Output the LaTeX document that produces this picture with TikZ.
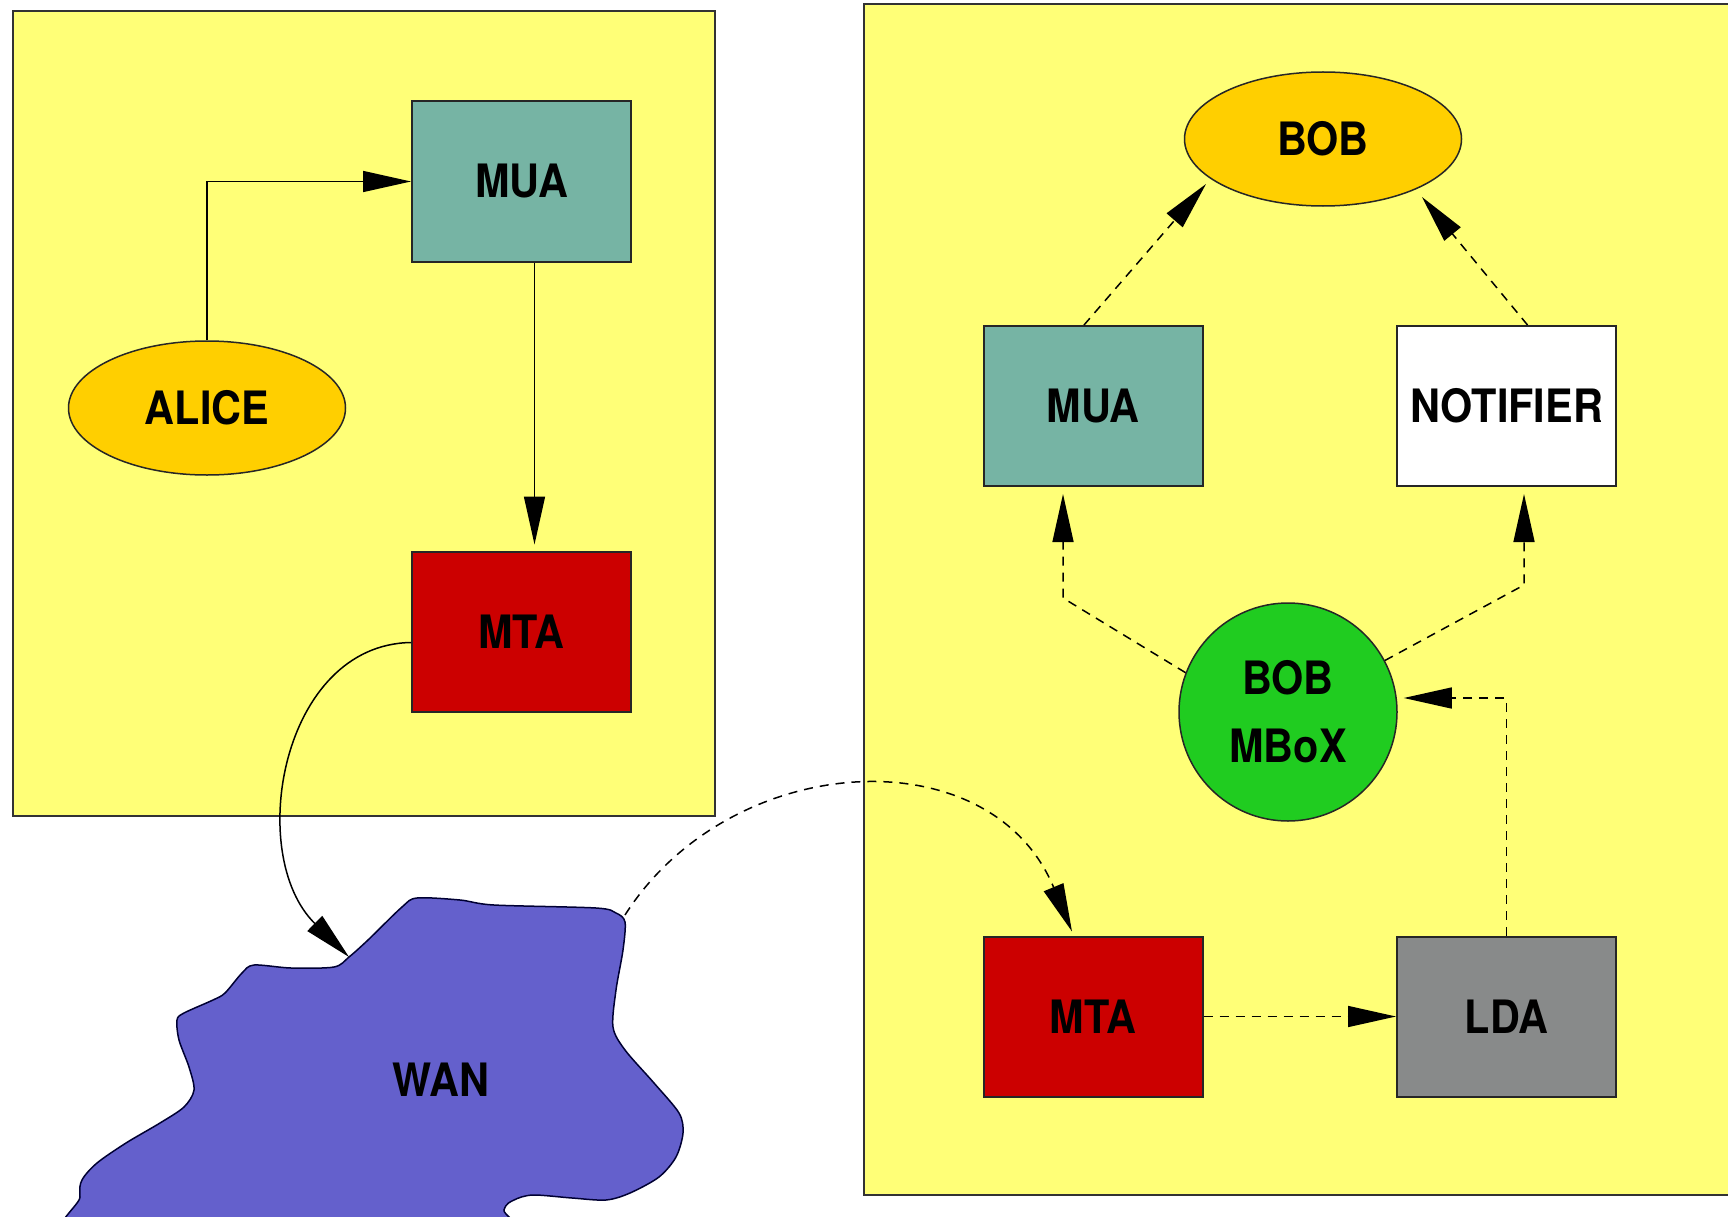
\documentclass[tikz,border=0pt]{standalone}
\usepackage{fontspec}
\setmainfont[FakeStretch=0.9]{TeX Gyre Heros}
\usetikzlibrary{arrows.meta,shapes.geometric}

\definecolor{panelyellow}{RGB}{255,255,119}
\definecolor{muateal}{RGB}{118,180,164}
\definecolor{mtared}{RGB}{204,0,0}
\definecolor{usergold}{RGB}{255,207,0}
\definecolor{mboxgreen}{RGB}{32,204,32}
\definecolor{ldagray}{RGB}{136,138,138}
\definecolor{wanblue}{RGB}{100,96,204}

\begin{document}
\begin{tikzpicture}[x=1pt,y=-1pt,
  every node/.style={font=\fontsize{46}{50}\selectfont\bfseries, text=black},
  box/.style={draw=black!85, line width=2pt, minimum width=219pt,
    minimum height=160pt, inner sep=0pt},
  user/.style={ellipse, draw=black!85, line width=1.5pt, fill=usergold,
    minimum width=277pt, minimum height=134pt, inner sep=0pt},
  panel/.style={draw=black!80, line width=2pt, fill=panelyellow},
  link/.style={line width=1.5pt, -{Triangle[length=48pt,width=21pt]}},
  weak/.style={link, dash pattern=on 9pt off 7pt},
]
\useasboundingbox (0,0) rectangle (1728,1217);
\fill[white] (0,0) rectangle (1728,1217);
\clip (0,0) rectangle (1728,1217);

% sender and receiver hosts
\draw[panel] (13,11) rectangle (715,816);
\draw[panel] (864,4) rectangle (1740,1195);

% wide area network cloud
\filldraw[fill=wanblue, draw=black!80!blue, line width=1.5pt]
  plot[smooth cycle, tension=0.5] coordinates {
  (254,965) (291,968) (334,967) (349,957) (368,940) (402,907) (417,898)
  (460,900) (494,905) (596,908) (616,913) (625,922) (623,950) (616,990)
  (613,1027) (625,1050) (654,1083) (679,1113) (683,1133) (676,1157)
  (659,1177) (630,1193) (606,1200) (572,1198) (533,1195) (514,1200)
  (504,1210) (499,1250) (85,1250) (80,1197) (82,1180) (97,1163)
  (126,1143) (160,1123) (184,1107) (194,1090) (189,1067) (179,1040)
  (177,1020) (184,1013) (213,1000) (225,993) (242,973)};
\node (wan) at (441,1080) {WAN};
\coordinate (wanin) at (349,957);
\coordinate (wanout) at (625,915);

% sender side
\node[user] (alice) at (207,408) {ALICE};
\node[box, fill=muateal] (muaL) at (521.5,181.5) {MUA};
\node[box, fill=mtared] (mtaL) at (521.5,631.5) {MTA};

% receiver side
\node[user] (bob) at (1323,139) {BOB};
\node[box, fill=muateal] (muaR) at (1093,406) {MUA};
\node[box, fill=white] (notif) at (1506.5,406) {NOTIFIER};
\node[circle, draw=black!85, line width=1.5pt, fill=mboxgreen,
  minimum size=218pt, inner sep=0pt, align=center,
  font=\fontsize{46}{68}\selectfont\bfseries] (mbox) at (1288,712) {BOB\\MBoX};
\node[box, fill=mtared] (mtaR) at (1093,1016.5) {MTA};
\node[box, fill=ldagray] (lda) at (1506.5,1016.5) {LDA};

\coordinate (bobL) at (1206,184);
\coordinate (bobR) at (1422,197);
\coordinate (cMua) at (1063,598);
\coordinate (cNot) at (1524,585);

% solid links on the sender side
\draw[link] (alice.north) |- (muaL.west);
\draw[link] ([xshift=13pt]muaL.south) -- ([xshift=13pt,yshift=6pt]mtaL.north);
\draw[link] ([yshift=-11pt]mtaL.west) .. controls +(-130,2) and +(-104,-102) .. (wanin);

% dashed links on the receiver side
\draw[weak] (wanout) .. controls +(105,-165) and +(-82,-197) .. ([xshift=-21pt,yshift=4pt]mtaR.north);
\draw[weak] (mtaR.east) -- (lda.west);
\draw[weak] (lda.north) |- ([xshift=6pt,yshift=14pt]mbox.east);
\draw[weak] (mbox.159) -- (cMua) -- ([yshift=-7pt]cMua |- muaR.south);
\draw[weak] (mbox.28) -- (cNot) -- ([yshift=-7pt]cNot |- notif.south);
\draw[weak] ([xshift=-9pt]muaR.north) -- (bobL);
\draw[weak] ([xshift=21pt]notif.north) -- (bobR);
\end{tikzpicture}
\end{document}
